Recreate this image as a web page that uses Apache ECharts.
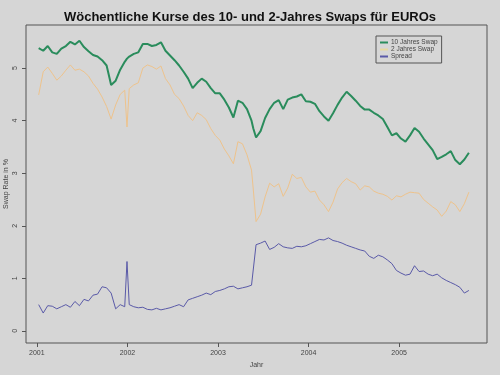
<!DOCTYPE html>
<html>
<head>
<meta charset="utf-8">
<script src="https://cdn.jsdelivr.net/npm/echarts@6/dist/echarts.min.js"></script>
<style>
html,body{margin:0;padding:0;background:#d6d6d6;}
#chart{width:500px;height:375px;}
</style>
</head>
<body>
<div id="chart"></div>
<script>
// Decimal-year dates (roughly every 2.5 weeks, plus spike / jump points)
var dates = [
 2001.02,2001.07,2001.12,2001.17,2001.22,2001.27,2001.32,2001.37,2001.42,2001.47,
 2001.52,2001.57,2001.62,2001.67,2001.72,2001.77,2001.82,2001.87,2001.92,2001.97,
 2001.995,
 2002.02,2002.07,2002.12,2002.17,2002.22,2002.27,2002.32,2002.37,2002.42,2002.47,
 2002.52,2002.57,2002.62,2002.67,2002.72,2002.77,2002.82,2002.87,2002.92,2002.97,
 2003.02,2003.07,2003.12,2003.17,2003.22,2003.27,2003.32,2003.37,
 2003.39,
 2003.42,2003.47,2003.52,2003.57,2003.62,2003.67,2003.72,2003.77,2003.82,2003.87,
 2003.92,2003.97,2004.02,2004.07,2004.12,2004.17,2004.22,2004.27,2004.32,2004.37,
 2004.42,2004.47,2004.52,2004.57,2004.62,2004.67,2004.72,2004.77,2004.82,2004.87,
 2004.92,2004.97,2005.02,2005.07,2005.12,2005.17,2005.22,2005.27,2005.32,2005.37,
 2005.42,2005.47,2005.52,2005.57,2005.62,2005.67,2005.72,2005.77
];
var swap10 = [
 5.38,5.33,5.42,5.30,5.27,5.37,5.42,5.50,5.45,5.52,
 5.40,5.32,5.25,5.22,5.15,5.05,4.68,4.76,4.97,5.12,
 5.18,
 5.22,5.27,5.30,5.46,5.46,5.42,5.44,5.49,5.33,5.24,
 5.15,5.05,4.93,4.80,4.62,4.72,4.80,4.74,4.62,4.52,
 4.52,4.40,4.25,4.06,4.38,4.34,4.22,4.00,
 3.85,
 3.68,3.80,4.05,4.22,4.34,4.39,4.22,4.40,4.44,4.46,
 4.50,4.37,4.36,4.32,4.18,4.08,4.00,4.14,4.30,4.44,
 4.55,4.47,4.38,4.28,4.21,4.21,4.15,4.10,4.03,3.88,
 3.72,3.76,3.66,3.60,3.72,3.86,3.79,3.66,3.55,3.44,
 3.27,3.31,3.36,3.42,3.25,3.17,3.26,3.39
];
var swap2 = [
 4.49,4.93,5.02,4.90,4.77,4.85,4.96,5.06,4.96,4.98,
 4.93,4.85,4.71,4.60,4.45,4.27,4.03,4.30,4.50,4.58,
 3.88,
 4.61,4.68,4.72,5.00,5.06,5.03,4.98,5.04,4.80,4.68,
 4.50,4.42,4.28,4.10,4.00,4.15,4.10,4.02,3.85,3.72,
 3.63,3.46,3.33,3.18,3.60,3.56,3.35,3.06,
 2.68,
 2.08,2.22,2.55,2.81,2.74,2.80,2.56,2.72,2.98,2.90,
 2.92,2.74,2.64,2.66,2.49,2.40,2.27,2.45,2.70,2.82,
 2.90,2.84,2.80,2.68,2.76,2.74,2.66,2.62,2.60,2.56,
 2.49,2.57,2.55,2.60,2.64,2.63,2.62,2.50,2.43,2.36,
 2.30,2.18,2.28,2.46,2.40,2.27,2.42,2.64
];
var spread = [
 0.50,0.34,0.48,0.47,0.42,0.46,0.50,0.45,0.56,0.48,
 0.60,0.57,0.68,0.70,0.84,0.82,0.72,0.42,0.50,0.46,
 1.32,
 0.50,0.46,0.44,0.45,0.41,0.40,0.43,0.40,0.42,0.44,
 0.47,0.50,0.46,0.59,0.62,0.65,0.68,0.72,0.69,0.75,
 0.77,0.80,0.84,0.85,0.80,0.82,0.84,0.87,
 0.88,
 1.64,1.67,1.71,1.55,1.59,1.66,1.60,1.58,1.57,1.61,
 1.60,1.62,1.66,1.70,1.74,1.73,1.77,1.72,1.70,1.67,
 1.63,1.60,1.57,1.54,1.52,1.42,1.38,1.44,1.41,1.35,
 1.28,1.15,1.10,1.06,1.08,1.24,1.13,1.14,1.08,1.05,
 1.08,1.01,0.96,0.92,0.88,0.83,0.72,0.77
];
var yearTicks = [2001, 2002, 2003, 2004, 2005];
var rateTicks = [0, 1, 2, 3, 4, 5];
var seriesNames = ['10 Jahres Swap', '2 Jahres Swap', 'Spread'];

function pairs(vals){ return dates.map(function(d,i){ return [d, vals[i]]; }); }

var FONT = '"Liberation Sans", Arial, sans-serif';
var chart = echarts.init(document.getElementById('chart'), null, {renderer:'canvas'});
chart.setOption({
  backgroundColor: '#d6d6d6',
  animation: false,
  title: {
    text: 'Wöchentliche Kurse des 10- und 2-Jahres Swaps für EUROs',
    left: 'center', top: 6,
    textStyle: {fontFamily: FONT, fontSize: 13, fontWeight: 'bold', color: '#111'}
  },
  legend: {
    data: seriesNames,
    orient: 'vertical',
    left: 376, top: 36,
    itemWidth: 8, itemHeight: 2, itemGap: 0,
    icon: 'rect',
    padding: [3, 4, 3, 4],
    borderColor: '#555', borderWidth: 1,
    backgroundColor: '#d6d6d6',
    textStyle: {fontFamily: FONT, fontSize: 6.5, lineHeight: 7, color: '#444', padding: [0,0,0,-2]}
  },
  grid: {
    left: 26, right: 13, top: 25, bottom: 32,
    outerBoundsMode: 'none', containLabel: false,
    show: true, borderColor: '#555', borderWidth: 1, backgroundColor: 'transparent'
  },
  xAxis: {
    type: 'value', min: 2000.88, max: 2005.97,
    name: 'Jahr', nameLocation: 'middle', nameGap: 19, nameMoveOverlap: false,
    nameTextStyle: {fontFamily: FONT, fontSize: 7, color: '#444'},
    axisLine: {show: false, onZero: false},
    splitLine: {show: false},
    axisTick: {show: true, customValues: yearTicks, length: 4, inside: false, lineStyle: {color: '#555'}},
    axisLabel: {customValues: yearTicks, fontFamily: FONT, fontSize: 7, color: '#444', margin: 7,
      formatter: function(v){ return String(Math.round(v)); }}
  },
  yAxis: {
    type: 'value', min: -0.23, max: 5.82,
    name: 'Swap Rate in %', nameLocation: 'middle', nameGap: 16, nameRotate: 90, nameMoveOverlap: false,
    nameTextStyle: {fontFamily: FONT, fontSize: 7, color: '#444'},
    axisLine: {show: false, onZero: false},
    splitLine: {show: false},
    axisTick: {show: true, customValues: rateTicks, length: 4, lineStyle: {color: '#555'}},
    axisLabel: {customValues: rateTicks, rotate: 90, fontFamily: FONT, fontSize: 7, color: '#444', margin: 7,
      formatter: function(v){ return String(Math.round(v)); }}
  },
  series: [
    {name: seriesNames[0], type: 'line', data: pairs(swap10), symbol: 'none',
     lineStyle: {color: '#2a8c5c', width: 2}, itemStyle: {color: '#2a8c5c'}},
    {name: seriesNames[1], type: 'line', data: pairs(swap2), symbol: 'none',
     lineStyle: {color: '#eec38c', width: 1}, itemStyle: {color: '#e6d9a0'}},
    {name: seriesNames[2], type: 'line', data: pairs(spread), symbol: 'none',
     lineStyle: {color: '#5a5aa8', width: 1}, itemStyle: {color: '#5a5aa8'}}
  ]
});
</script>
</body>
</html>
